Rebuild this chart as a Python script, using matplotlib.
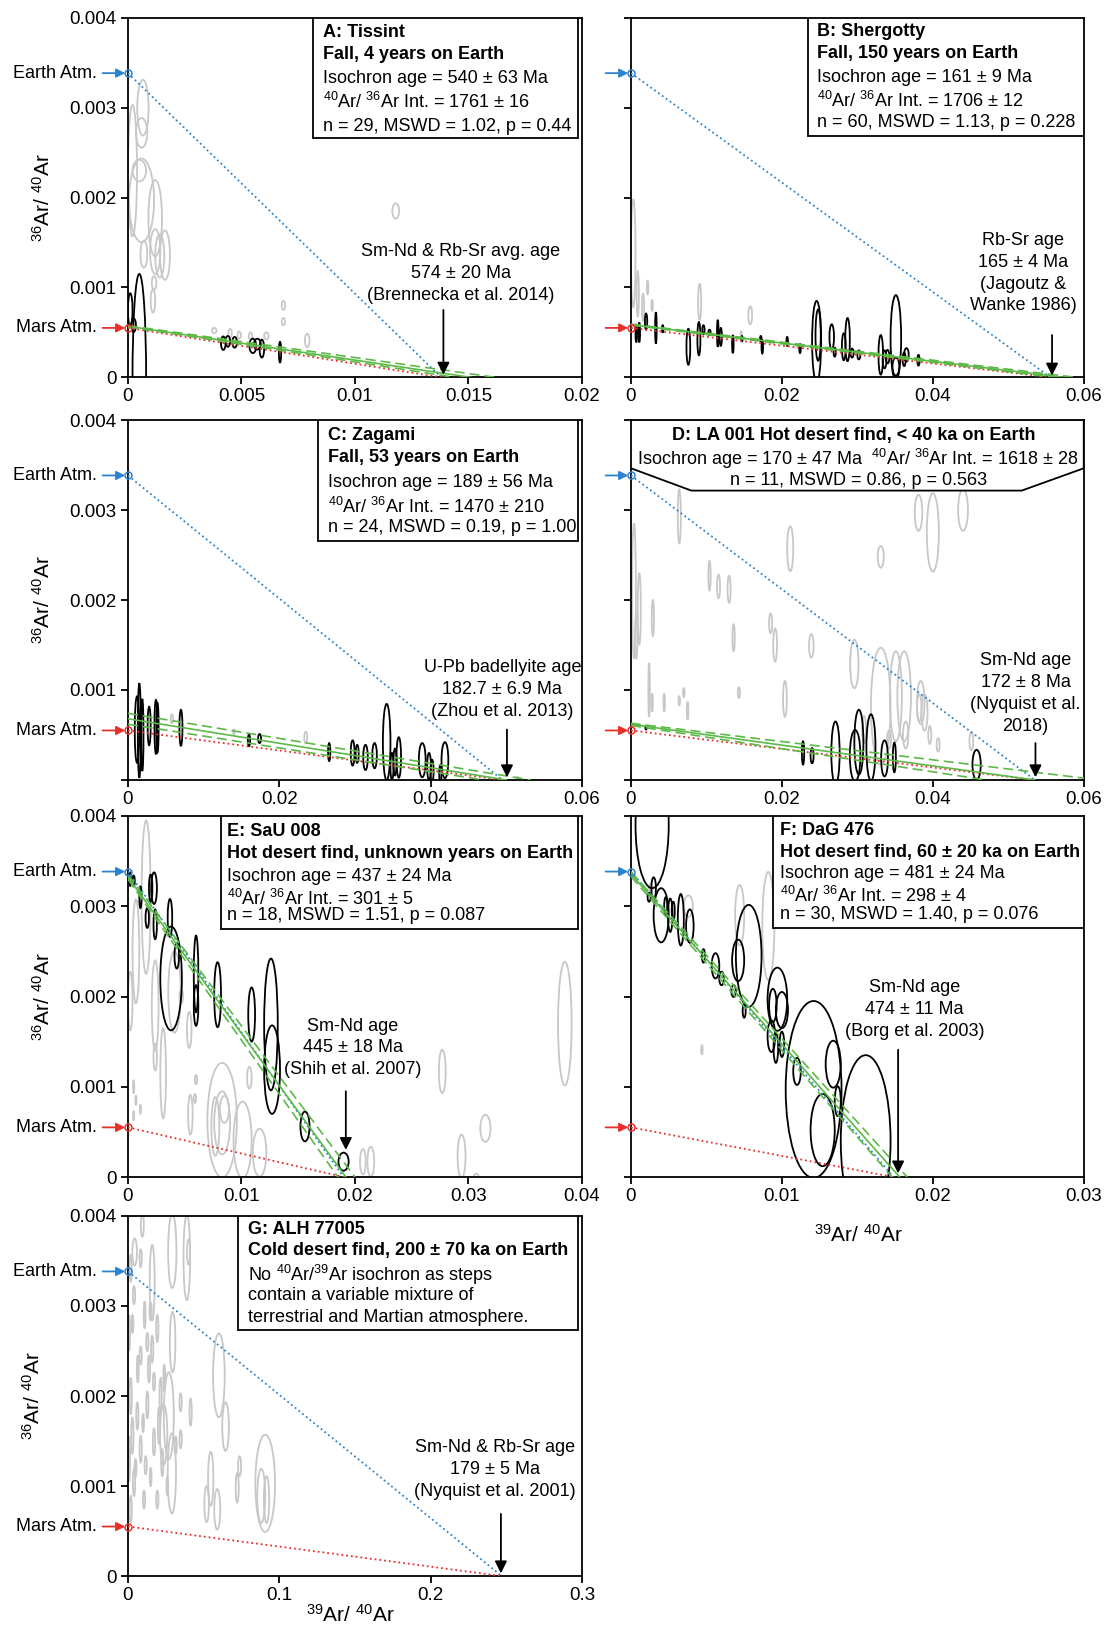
import matplotlib.pyplot as plt
from matplotlib.patches import Ellipse, Rectangle, Polygon

plt.rcParams['font.family'] = ['Liberation Sans', 'DejaVu Sans']
plt.rcParams['mathtext.fontset'] = 'custom'
plt.rcParams['mathtext.rm'] = 'Liberation Sans'
plt.rcParams['mathtext.it'] = 'Liberation Sans:italic'
plt.rcParams['mathtext.bf'] = 'Liberation Sans:bold'

EARTH = 1 / 295.5
MARS = 0.00055

# ellipses: (39Ar/40Ar, 36Ar/40Ar, x-error width, y-error height)
A_black = [(0.0005, 0.0000, 0.0006, 0.0023), (0.0001, 0.00075, 0.0002, 0.00037),
           (0.00025, 0.00058, 0.0002, 0.00015), (0.0042, 0.00038, 0.0002, 0.00015),
           (0.0044, 0.00040, 0.0002, 0.00012), (0.0047, 0.00039, 0.0002, 0.00012),
           (0.0055, 0.00035, 0.0003, 0.00016), (0.0057, 0.00037, 0.0003, 0.00012),
           (0.0059, 0.00032, 0.0002, 0.0002), (0.0067, 0.00028, 0.0001, 0.00023)]
A_grey = [(0.00066, 0.0030, 0.0005, 0.00062), (0.0006, 0.00272, 0.0005, 0.00033),
          (0.0002, 0.0023, 0.0004, 0.00146), (0.0006, 0.00197, 0.0011, 0.00093),
          (0.0005, 0.0023, 0.0006, 0.00024), (0.0012, 0.00177, 0.0006, 0.00085),
          (0.0007, 0.00137, 0.0003, 0.0003), (0.0012, 0.0014, 0.00045, 0.0005),
          (0.0014, 0.00135, 0.0004, 0.00048), (0.00163, 0.00136, 0.00044, 0.00055),
          (0.00115, 0.00105, 0.0002, 0.00015), (0.0011, 0.00085, 0.0002, 0.00026),
          (0.0118, 0.00185, 0.0003, 0.00017), (0.00685, 0.0008, 0.00015, 0.0001),
          (0.00685, 0.00062, 0.00015, 0.00008), (0.0079, 0.00041, 0.0002, 0.00015),
          (0.0038, 0.00052, 0.0002, 0.00006), (0.0045, 0.00049, 0.00015, 0.0001),
          (0.0049, 0.00047, 0.00015, 0.00008), (0.0054, 0.00046, 0.00015, 0.00008),
          (0.0061, 0.00046, 0.0002, 0.00008)]

B_black = [(0.0007, 0.00049, 0.0002, 0.0002), (0.0011, 0.00050, 0.0002, 0.00022),
           (0.0020, 0.00062, 0.0003, 0.00018), (0.0033, 0.00055, 0.0002, 0.00035),
           (0.0042, 0.00054, 0.0002, 0.00008), (0.0076, 0.00034, 0.0005, 0.0004),
           (0.0090, 0.00043, 0.0004, 0.00037), (0.0096, 0.00053, 0.0003, 0.0001),
           (0.0104, 0.00050, 0.0003, 0.00006), (0.0115, 0.00049, 0.0002, 0.0003),
           (0.0119, 0.00045, 0.0003, 0.0002), (0.0135, 0.00037, 0.0002, 0.0002),
           (0.0147, 0.00043, 0.0002, 0.00006), (0.0172, 0.00043, 0.0002, 0.00006),
           (0.0174, 0.00034, 0.0002, 0.00015), (0.0207, 0.00040, 0.0002, 0.0001),
           (0.0224, 0.00032, 0.0002, 0.0001), (0.0246, 0.00040, 0.0012, 0.0009),
           (0.0248, 0.00047, 0.0007, 0.00057), (0.0266, 0.00045, 0.0006, 0.00028),
           (0.0270, 0.00028, 0.0003, 0.0001), (0.0282, 0.00034, 0.0005, 0.0003),
           (0.0287, 0.00042, 0.0006, 0.00048), (0.0293, 0.00027, 0.0004, 0.0001),
           (0.0302, 0.00025, 0.0004, 0.0001), (0.0331, 0.00025, 0.0006, 0.00044),
           (0.0336, 0.00020, 0.0005, 0.0002), (0.0340, 0.00023, 0.0005, 0.00015),
           (0.0351, 0.00044, 0.0014, 0.00095), (0.0351, 0.00012, 0.0009, 0.0002),
           (0.0362, 0.00020, 0.0004, 0.00015), (0.0365, 0.00025, 0.0006, 0.00015),
           (0.0381, 0.00019, 0.0003, 0.00012)]
B_grey = [(0.0003, 0.00138, 0.0006, 0.0012), (0.0009, 0.00093, 0.0003, 0.0005),
          (0.0016, 0.00078, 0.0003, 0.0003), (0.0022, 0.0010, 0.0002, 0.00015),
          (0.0028, 0.0008, 0.0002, 0.00012), (0.0091, 0.00084, 0.0004, 0.0004),
          (0.0158, 0.00069, 0.0005, 0.0002), (0.0146, 0.00049, 0.0002, 0.00004)]

C_black = [(0.0012, 0.00056, 0.0006, 0.00074), (0.0015, 0.00055, 0.0004, 0.00105),
           (0.0019, 0.00050, 0.0003, 0.0008), (0.0028, 0.00060, 0.0004, 0.00043),
           (0.0037, 0.00059, 0.0004, 0.0006), (0.0039, 0.00058, 0.0003, 0.00055),
           (0.0070, 0.00058, 0.0004, 0.0004), (0.0160, 0.00044, 0.0003, 0.00013),
           (0.0174, 0.00046, 0.0004, 0.0001), (0.0266, 0.00031, 0.0003, 0.0002),
           (0.0297, 0.00030, 0.0005, 0.00028), (0.0303, 0.00029, 0.0004, 0.0002),
           (0.0314, 0.00025, 0.0006, 0.00028), (0.0326, 0.00027, 0.0006, 0.00028),
           (0.0342, 0.00042, 0.0010, 0.00085), (0.0349, 0.00015, 0.0004, 0.0003),
           (0.0353, 0.00020, 0.0004, 0.0003), (0.0358, 0.00025, 0.0006, 0.00045),
           (0.0389, 0.00022, 0.0009, 0.00038), (0.0398, 0.00015, 0.0005, 0.0003),
           (0.0402, 0.00010, 0.0004, 0.00025), (0.0413, 0.00007, 0.0003, 0.0002),
           (0.0419, 0.00022, 0.0009, 0.0004)]
C_grey = [(0.0058, 0.00068, 0.0003, 0.0001), (0.0140, 0.00053, 0.0002, 0.00006),
          (0.0235, 0.00047, 0.0004, 0.00013), (0.0515, 0.00001, 0.0003, 0.00005)]

D_black = [(0.0020, 0.00058, 0.0002, 0.00004), (0.0228, 0.00030, 0.0003, 0.00026),
           (0.0240, 0.00027, 0.0004, 0.00017), (0.0271, 0.00030, 0.0011, 0.0007),
           (0.0297, 0.00027, 0.0014, 0.00057), (0.0302, 0.00042, 0.0012, 0.00072),
           (0.0318, 0.00036, 0.0012, 0.00074), (0.0336, 0.00024, 0.0009, 0.0004),
           (0.0349, 0.00025, 0.0004, 0.00033), (0.0458, 0.00017, 0.0011, 0.00033)]
D_grey = [(0.0004, 0.0021, 0.0005, 0.0015), (0.0011, 0.0019, 0.0004, 0.0008),
          (0.0007, 0.0016, 0.0003, 0.0005), (0.0024, 0.0010, 0.0002, 0.0006),
          (0.0029, 0.0018, 0.0003, 0.0004), (0.0028, 0.00086, 0.0002, 0.0002),
          (0.0044, 0.00086, 0.0002, 0.0002), (0.0064, 0.00088, 0.0002, 0.0001),
          (0.0070, 0.00097, 0.0002, 0.0001), (0.0075, 0.00077, 0.0002, 0.0002),
          (0.0064, 0.00293, 0.0004, 0.0006), (0.0104, 0.00227, 0.0003, 0.00033),
          (0.0116, 0.00215, 0.0004, 0.00026), (0.0130, 0.00212, 0.0004, 0.0003),
          (0.0136, 0.00158, 0.0003, 0.0003), (0.0143, 0.00097, 0.0003, 0.00012),
          (0.0185, 0.00174, 0.0004, 0.00022), (0.0191, 0.0015, 0.0005, 0.00037),
          (0.0204, 0.0009, 0.0005, 0.0004), (0.0211, 0.00257, 0.0008, 0.0005),
          (0.0239, 0.00149, 0.0006, 0.00026), (0.0296, 0.00129, 0.0011, 0.00054),
          (0.0331, 0.00248, 0.0008, 0.00024), (0.0381, 0.00297, 0.0010, 0.0004),
          (0.0400, 0.00275, 0.0016, 0.00087), (0.0440, 0.0030, 0.0013, 0.00046),
          (0.0331, 0.00082, 0.0026, 0.0013), (0.0351, 0.00093, 0.0016, 0.0010),
          (0.0362, 0.00093, 0.0018, 0.0010), (0.0384, 0.00086, 0.0010, 0.00048),
          (0.0389, 0.00075, 0.0008, 0.0004), (0.0382, 0.00080, 0.0006, 0.0003),
          (0.0364, 0.0005, 0.0007, 0.0003), (0.0342, 0.00045, 0.0005, 0.0002),
          (0.0309, 0.00056, 0.0005, 0.0003), (0.0396, 0.0005, 0.0004, 0.0002),
          (0.0407, 0.00039, 0.0004, 0.00015), (0.0451, 0.00043, 0.0005, 0.0002)]

E_black = [(0.0002, 0.0033, 0.0002, 0.00015), (0.0005, 0.00328, 0.0002, 0.00012),
           (0.0011, 0.0031, 0.0002, 0.00024), (0.0020, 0.0032, 0.0003, 0.0003),
           (0.0023, 0.0032, 0.0005, 0.00035), (0.0017, 0.00287, 0.0003, 0.00022),
           (0.0024, 0.0028, 0.0003, 0.00033), (0.0037, 0.00287, 0.0004, 0.00042),
           (0.0038, 0.0022, 0.0019, 0.00115), (0.0043, 0.00245, 0.0004, 0.00028),
           (0.0060, 0.00225, 0.0004, 0.00085), (0.0060, 0.0019, 0.0004, 0.00045),
           (0.0079, 0.00202, 0.0006, 0.00072), (0.0109, 0.0018, 0.0006, 0.0006),
           (0.0126, 0.00169, 0.0012, 0.00146), (0.0127, 0.00119, 0.0014, 0.00098),
           (0.0156, 0.00056, 0.0008, 0.00033), (0.0190, 0.00017, 0.0009, 0.0002)]
E_grey = [(0.0016, 0.0031, 0.0008, 0.0017), (0.0007, 0.0025, 0.0006, 0.00115),
          (0.0002, 0.00195, 0.0004, 0.00065), (0.0024, 0.0019, 0.0006, 0.0010),
          (0.0041, 0.00205, 0.0011, 0.0009), (0.0047, 0.0020, 0.0003, 0.00015),
          (0.0054, 0.00163, 0.0004, 0.0004), (0.0031, 0.00115, 0.0005, 0.0010),
          (0.0024, 0.00133, 0.0003, 0.0003), (0.0005, 0.0010, 0.0001, 0.00015),
          (0.0007, 0.00085, 0.0001, 0.0001), (0.0011, 0.00075, 0.0001, 0.0001),
          (0.0005, 0.00068, 0.0001, 0.0001), (0.0055, 0.00069, 0.0004, 0.00044),
          (0.0059, 0.00087, 0.0002, 0.0001), (0.0060, 0.00108, 0.0002, 0.0001),
          (0.0083, 0.00063, 0.0026, 0.00127), (0.0083, 0.0006, 0.0014, 0.0007),
          (0.0077, 0.00056, 0.0007, 0.00065), (0.0085, 0.00075, 0.0008, 0.0003),
          (0.0101, 0.00041, 0.0016, 0.00085), (0.0116, 0.00027, 0.0012, 0.00053),
          (0.0107, 0.0011, 0.0004, 0.00024), (0.0207, 0.00017, 0.0005, 0.00028),
          (0.0214, 0.00017, 0.0006, 0.00033), (0.0277, 0.00117, 0.0006, 0.00048),
          (0.0294, 0.00023, 0.0007, 0.00048), (0.0315, 0.00054, 0.0009, 0.0003),
          (0.0385, 0.0017, 0.0012, 0.00137), (0.0307, 0.00001, 0.0004, 0.00005)]

F_black = [(0.0014, 0.0039, 0.0022, 0.0014), (0.0015, 0.0032, 0.0003, 0.00024),
           (0.0012, 0.0031, 0.0002, 0.0001), (0.0020, 0.0029, 0.0010, 0.0006),
           (0.0023, 0.0030, 0.0002, 0.0002), (0.0026, 0.0029, 0.0003, 0.00037),
           (0.0028, 0.00295, 0.0002, 0.0002), (0.0033, 0.00285, 0.0004, 0.00057),
           (0.0039, 0.00278, 0.0005, 0.00037), (0.0048, 0.00245, 0.0002, 0.00015),
           (0.0056, 0.00234, 0.0005, 0.00028), (0.0060, 0.0022, 0.0003, 0.00015),
           (0.0068, 0.00206, 0.0003, 0.00013), (0.0071, 0.0024, 0.0008, 0.00046),
           (0.0078, 0.00245, 0.0017, 0.00113), (0.0075, 0.00184, 0.0002, 0.00015),
           (0.0097, 0.00197, 0.0013, 0.0007), (0.0094, 0.0019, 0.0005, 0.00037),
           (0.0100, 0.00185, 0.0008, 0.0004), (0.0093, 0.00156, 0.0005, 0.00035),
           (0.0096, 0.00143, 0.0003, 0.00033), (0.0100, 0.00147, 0.0003, 0.00028),
           (0.0110, 0.00117, 0.0005, 0.0003), (0.0121, 0.00097, 0.0037, 0.00196),
           (0.0127, 0.00052, 0.0016, 0.0008), (0.0134, 0.00125, 0.0010, 0.00052),
           (0.0137, 0.00084, 0.0004, 0.00033), (0.01555, 0.0004, 0.0033, 0.0019)]
F_grey = [(0.0013, 0.0032, 0.0002, 0.0001), (0.0072, 0.0029, 0.0006, 0.00067),
          (0.0091, 0.00278, 0.0008, 0.0012), (0.0038, 0.0030, 0.0006, 0.00024),
          (0.0047, 0.00141, 0.0001, 0.0001)]

G_grey = [(0.0095, 0.0039, 0.002, 0.00026), (0.0044, 0.0036, 0.003, 0.0003),
          (0.016, 0.00326, 0.0033, 0.00084), (0.0293, 0.00361, 0.0055, 0.00082),
          (0.0389, 0.00354, 0.0044, 0.00095), (0.040, 0.0036, 0.002, 0.00028),
          (0.0295, 0.0026, 0.0037, 0.00067), (0.0601, 0.00223, 0.0077, 0.00093),
          (0.0645, 0.00166, 0.0044, 0.00054), (0.027, 0.00178, 0.0066, 0.00097),
          (0.0236, 0.00157, 0.0048, 0.00067), (0.029, 0.00114, 0.0055, 0.00089),
          (0.0547, 0.00108, 0.0035, 0.0006), (0.059, 0.00074, 0.004, 0.00045),
          (0.052, 0.0008, 0.003, 0.0004), (0.0738, 0.00122, 0.002, 0.00022),
          (0.0722, 0.00098, 0.002, 0.00033), (0.0907, 0.00103, 0.013, 0.00108),
          (0.0881, 0.00089, 0.0053, 0.0006), (0.0916, 0.00085, 0.0035, 0.00052),
          (0.0018, 0.00342, 0.0015, 0.0003), (0.004, 0.00312, 0.0015, 0.0002),
          (0.015, 0.00294, 0.0015, 0.0002), (0.0194, 0.00275, 0.0015, 0.0003),
          (0.0128, 0.0026, 0.0015, 0.0002), (0.0139, 0.0023, 0.0015, 0.0003),
          (0.0172, 0.00216, 0.0015, 0.0002), (0.0216, 0.0020, 0.0015, 0.0004),
          (0.0128, 0.0019, 0.0015, 0.0003), (0.0084, 0.00245, 0.0015, 0.0002),
          (0.0018, 0.0020, 0.0015, 0.0004), (0.0062, 0.00178, 0.0015, 0.0003),
          (0.0029, 0.00156, 0.0015, 0.0004), (0.0084, 0.00141, 0.0015, 0.0003),
          (0.0117, 0.00123, 0.0015, 0.0002), (0.004, 0.00104, 0.0015, 0.0003),
          (0.0106, 0.00085, 0.0015, 0.0002), (0.0018, 0.00074, 0.0015, 0.0003),
          (0.0348, 0.00152, 0.0015, 0.0002), (0.0414, 0.00182, 0.0015, 0.0003),
          (0.0348, 0.00193, 0.0015, 0.0002), (0.0205, 0.00167, 0.0015, 0.0004),
          (0.0172, 0.00149, 0.0015, 0.0003), (0.0227, 0.00126, 0.0015, 0.0003),
          (0.0194, 0.00085, 0.0015, 0.0002), (0.016, 0.00252, 0.0015, 0.0003),
          (0.0084, 0.00353, 0.0015, 0.0002), (0.0315, 0.00145, 0.0015, 0.0002),
          (0.0008, 0.0013, 0.0012, 0.0005), (0.0008, 0.0027, 0.0012, 0.0004),
          (0.0050, 0.0012, 0.0012, 0.0002), (0.0065, 0.0023, 0.0012, 0.0003),
          (0.0100, 0.0017, 0.0012, 0.0002), (0.0110, 0.0029, 0.0012, 0.0003),
          (0.0030, 0.0028, 0.0012, 0.0002), (0.0150, 0.0011, 0.0012, 0.0002),
          (0.0240, 0.0022, 0.0012, 0.0003), (0.0260, 0.0010, 0.0012, 0.0002)]

x_max = {'A': 0.02, 'B': 0.06, 'C': 0.06, 'D': 0.06, 'E': 0.04, 'F': 0.03, 'G': 0.3}
x_ticklabels = {'A': ['0', '0.005', '0.01', '0.015', '0.02'],
                'B': ['0', '0.02', '0.04', '0.06'], 'C': ['0', '0.02', '0.04', '0.06'],
                'D': ['0', '0.02', '0.04', '0.06'], 'E': ['0', '0.01', '0.02', '0.03', '0.04'],
                'F': ['0', '0.01', '0.02', '0.03'], 'G': ['0', '0.1', '0.2', '0.3']}
y_ticks = [0, 0.001, 0.002, 0.003, 0.004]
y_ticklabels = ['0', '0.001', '0.002', '0.003', '0.004']

# x where the Earth / Mars mixing lines meet the radiogenic end member
end_x = {'A': 0.0138, 'B': 0.0556, 'C': 0.0495, 'D': 0.0535, 'E': 0.0190, 'F': 0.0174, 'G': 0.247}
# isochron (solid) and its envelope (dashed): (y intercept, x intercept)
iso = {'A': [(0.000568, 0.0151), (0.000575, 0.0162), (0.000562, 0.0144)],
       'B': [(0.000586, 0.0574), (0.000592, 0.0590), (0.000580, 0.0560)],
       'C': [(0.00068, 0.0500), (0.00074, 0.0532), (0.00062, 0.0470)],
       'D': [(0.000618, 0.0535), (0.00063, 0.0620), (0.000605, 0.0470)],
       'E': [(0.003322, 0.0192), (0.00335, 0.0200), (0.00330, 0.0185)],
       'F': [(0.003356, 0.0178), (0.00338, 0.0183), (0.00333, 0.0173)],
       'G': []}

box_lines = {
    'A': ['A: Tissint', 'Fall, 4 years on Earth', 'Isochron age = 540 ± 63 Ma',
          r'$^{40}$Ar/ $^{36}$Ar Int. = 1761 ± 16', 'n = 29, MSWD = 1.02, p = 0.44'],
    'B': ['B: Shergotty', 'Fall, 150 years on Earth', 'Isochron age = 161 ± 9 Ma',
          r'$^{40}$Ar/ $^{36}$Ar Int. = 1706 ± 12', 'n = 60, MSWD = 1.13, p = 0.228'],
    'C': ['C: Zagami', 'Fall, 53 years on Earth', 'Isochron age = 189 ± 56 Ma',
          r'$^{40}$Ar/ $^{36}$Ar Int. = 1470 ± 210', 'n = 24, MSWD = 0.19, p = 1.00'],
    'D': ['D: LA 001 Hot desert find, < 40 ka on Earth',
          r'Isochron age = 170 ± 47 Ma  $^{40}$Ar/ $^{36}$Ar Int. = 1618 ± 28',
          'n = 11, MSWD = 0.86, p = 0.563'],
    'E': ['E: SaU 008', 'Hot desert find, unknown years on Earth', 'Isochron age = 437 ± 24 Ma',
          r'$^{40}$Ar/ $^{36}$Ar Int. = 301 ± 5', 'n = 18, MSWD = 1.51, p = 0.087'],
    'F': ['F: DaG 476', 'Hot desert find, 60 ± 20 ka on Earth', 'Isochron age = 481 ± 24 Ma',
          r'$^{40}$Ar/ $^{36}$Ar Int. = 298 ± 4', 'n = 30, MSWD = 1.40, p = 0.076'],
    'G': ['G: ALH 77005', 'Cold desert find, 200 ± 70 ka on Earth',
          r'No $^{40}$Ar/$^{39}$Ar isochron as steps', 'contain a variable mixture of',
          'terrestrial and Martian atmosphere.'],
}
ref_text = {
    'A': 'Sm-Nd & Rb-Sr avg. age\n574 ± 20 Ma\n(Brennecka et al. 2014)',
    'B': 'Rb-Sr age\n165 ± 4 Ma\n(Jagoutz &\nWanke 1986)',
    'C': 'U-Pb badellyite age\n182.7 ± 6.9 Ma\n(Zhou et al. 2013)',
    'D': 'Sm-Nd age\n172 ± 8 Ma\n(Nyquist et al.\n2018)',
    'E': 'Sm-Nd age\n445 ± 18 Ma\n(Shih et al. 2007)',
    'F': 'Sm-Nd age\n474 ± 11 Ma\n(Borg et al. 2003)',
    'G': 'Sm-Nd & Rb-Sr age\n179 ± 5 Ma\n(Nyquist et al. 2001)',
}
# text centre (x, y) and arrow (x, y start, y end), data units
ref_pos = {'A': (0.01467, 0.00116, 0.0139, 0.00075, 0.00003),
           'B': (0.0520, 0.00116, 0.0558, 0.00047, 0.00002),
           'C': (0.0495, 0.00101, 0.0501, 0.00056, 0.00003),
           'D': (0.0523, 0.00096, 0.0536, 0.00041, 0.00003),
           'E': (0.0198, 0.00143, 0.0192, 0.00095, 0.00030),
           'F': (0.0188, 0.00186, 0.0177, 0.00141, 0.00004),
           'G': (0.2425, 0.00118, 0.2465, 0.00069, 0.00003)}

# layout (figure fraction) and text-box geometry (axes fraction)
axes_rect = {'A': [0.1156, 0.7685, 0.410, 0.2206], 'B': [0.570, 0.7685, 0.409, 0.2206],
             'C': [0.1156, 0.5215, 0.410, 0.2208], 'D': [0.570, 0.5215, 0.409, 0.2208],
             'E': [0.1156, 0.2779, 0.410, 0.2215], 'F': [0.570, 0.2779, 0.409, 0.2215],
             'G': [0.1156, 0.0331, 0.410, 0.2209]}
box_rect = {'A': (0.408, 0.665, 0.991), 'B': (0.391, 0.672, 1.0), 'C': (0.419, 0.665, 0.991),
            'E': (0.206, 0.686, 0.991), 'F': (0.313, 0.690, 1.0), 'G': (0.242, 0.683, 0.991)}
text_x = {'A': 0.43, 'B': 0.411, 'C': 0.44, 'E': 0.218, 'F': 0.329, 'G': 0.264}
line_y = {'A': [0.958, 0.898, 0.832, 0.766, 0.697], 'B': [0.961, 0.900, 0.835, 0.768, 0.709],
          'C': [0.958, 0.896, 0.827, 0.759, 0.702], 'E': [0.957, 0.896, 0.832, 0.771, 0.725],
          'F': [0.961, 0.898, 0.842, 0.778, 0.727], 'G': [0.963, 0.903, 0.836, 0.778, 0.718]}

BLUE = '#2b83cf'
RED = '#e8302a'
GREEN = '#5cb947'
GREY = '#c8c8c8'
FS = 13

fig = plt.figure(figsize=(11.07, 16.30), dpi=100)

ellipses = {'A': (A_black, A_grey), 'B': (B_black, B_grey), 'C': (C_black, C_grey),
            'D': (D_black, D_grey), 'E': (E_black, E_grey), 'F': (F_black, F_grey),
            'G': ([], G_grey)}

for p in 'ABCDEFG':
    ax = fig.add_axes(axes_rect[p])
    left_col = p in 'ACEG'
    xm = x_max[p]
    ax.set_xlim(0, xm)
    ax.set_ylim(0, 0.004)
    nt = len(x_ticklabels[p])
    ax.set_xticks([xm * i / (nt - 1) for i in range(nt)])
    ax.set_xticklabels(x_ticklabels[p])
    ax.set_yticks(y_ticks)
    if left_col:
        labs = list(y_ticklabels)
        if p == 'C':
            labs[0] = ''
        ax.set_yticklabels(labs)
    else:
        ax.set_yticklabels([])
    ax.tick_params(direction='out', length=5, width=1.3, labelsize=13.5, pad=3)
    for s in ax.spines.values():
        s.set_linewidth(1.3)

    black, grey = ellipses[p]
    for (x, y, w, h) in grey:
        ax.add_patch(Ellipse((x, y), w, h, fill=False, ec=GREY, lw=1.3, zorder=2))
    for (x, y, w, h) in black:
        ax.add_patch(Ellipse((x, y), w, h, fill=False, ec='black', lw=1.3, zorder=3))

    # mixing lines with terrestrial and martian atmosphere
    ax.plot([0, end_x[p]], [EARTH, 0], ls=':', color=BLUE, lw=1.3, zorder=4)
    ax.plot([0, end_x[p]], [MARS, 0], ls=':', color=RED, lw=1.3, zorder=4)
    for k, (y0, x0) in enumerate(iso[p]):
        ax.plot([0, x0], [y0, 0], color=GREEN, lw=1.2, zorder=4,
                ls='-' if k == 0 else (0, (6, 3)))

    for yv, col in ((EARTH, BLUE), (MARS, RED)):
        ax.plot([0], [yv], 'o', mfc='none', mec=col, ms=5, mew=1.1, clip_on=False, zorder=6)
        ax.annotate('', xy=(0, yv), xycoords='data', xytext=(-0.056, yv),
                    textcoords=('axes fraction', 'data'), annotation_clip=False,
                    arrowprops=dict(arrowstyle='-|>', color=col, lw=1.3,
                                    mutation_scale=13, shrinkA=0, shrinkB=2))
    if left_col:
        tr = ax.get_yaxis_transform()
        ax.text(-0.068, EARTH, 'Earth Atm.', transform=tr, ha='right', va='center', fontsize=FS)
        ax.text(-0.068, MARS, 'Mars Atm.', transform=tr, ha='right', va='center', fontsize=FS)
        ax.set_ylabel(r'$^{36}$Ar/ $^{40}$Ar', fontsize=15)
        ax.yaxis.set_label_coords(-0.185 if p == 'G' else -0.163, 0.5)

    # reference age arrow
    tx, ty, axx, ay0, ay1 = ref_pos[p]
    ax.text(tx, ty, ref_text[p], ha='center', va='center', fontsize=FS,
            linespacing=1.38, zorder=7)
    ax.annotate('', xy=(axx, ay1), xytext=(axx, ay0),
                arrowprops=dict(arrowstyle='-|>', color='black', lw=1.3,
                                mutation_scale=18, shrinkA=0, shrinkB=0), zorder=7)

    # information box
    if p == 'D':
        poly = [(0, 1), (0, 0.866), (0.1333, 0.804), (0.863, 0.804), (1, 0.866), (1, 1)]
        ax.add_patch(Polygon(poly, closed=True, transform=ax.transAxes, fc='white',
                             ec='black', lw=1.3, zorder=8))
        lines = box_lines['D']
        ax.text(0.493, 0.958, lines[0], transform=ax.transAxes, ha='center', va='center',
                fontsize=FS, fontweight='bold', zorder=9)
        ax.text(0.500, 0.893, lines[1], transform=ax.transAxes, ha='center', va='center',
                fontsize=FS, zorder=9)
        ax.text(0.502, 0.833, lines[2], transform=ax.transAxes, ha='center', va='center',
                fontsize=FS, zorder=9)
    else:
        x0, y0, x1 = box_rect[p]
        ax.add_patch(Rectangle((x0, y0), x1 - x0, 1 - y0, transform=ax.transAxes,
                               fc='white', ec='black', lw=1.3, zorder=8))
        for k, (s, yy) in enumerate(zip(box_lines[p], line_y[p])):
            ax.text(text_x[p], yy, s, transform=ax.transAxes, ha='left', va='center',
                    fontsize=FS, fontweight='bold' if k < 2 else 'normal', zorder=9)

    if p in 'FG':
        ax.set_xlabel(r'$^{39}$Ar/ $^{40}$Ar', fontsize=15)
        ax.xaxis.set_label_coords(0.503 if p == 'F' else 0.49, -0.13 if p == 'F' else -0.078)

fig.savefig('out.png', dpi=100)
